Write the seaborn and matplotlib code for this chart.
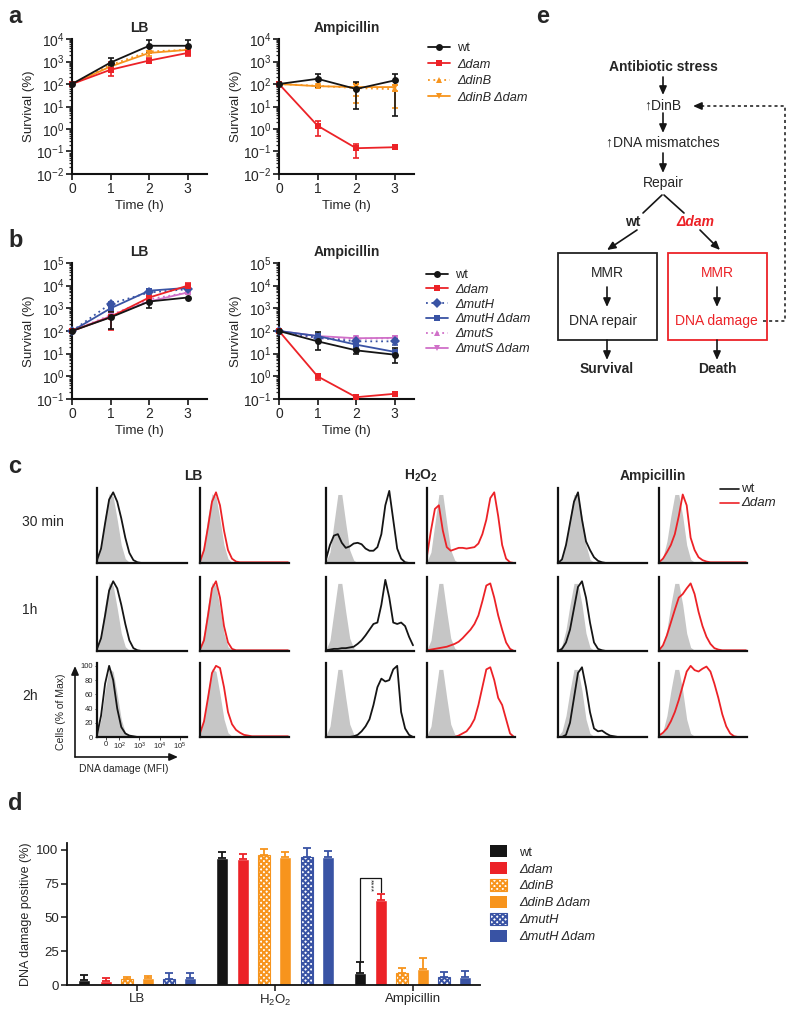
import numpy as np
import pandas as pd
import matplotlib
matplotlib.use('Agg')
import matplotlib.pyplot as plt
import seaborn as sns
from matplotlib.lines import Line2D
from matplotlib.patches import Patch, Rectangle
from matplotlib.ticker import LogLocator, LogFormatterMathtext, NullFormatter

W, H = 795, 1018

# ---------------- data ----------------
TIME = [0, 1, 2, 3]

# panel a
A_STRAINS = ['wt', 'Δdam', 'ΔdinB', 'ΔdinB Δdam']
A_LB_MEAN = [[100, 900, 5000, 5000], [100, 430, 1100, 2400], [100, 700, 2800, 3300], [100, 600, 2400, 3300]]
A_LB_LOW = [[100, 600, 2500, 2000], [100, 220, 900, 1800], [100, 700, 2800, 3300], [100, 450, 1800, 2600]]
A_LB_HIGH = [[100, 1400, 9000, 9000], [100, 1000, 1400, 3500], [100, 700, 2800, 3300], [100, 800, 3000, 4000]]
A_AMP_MEAN = [[100, 170, 60, 145], [100, 1.4, 0.14, 0.155], [100, 83, 66, 59], [100, 80, 73, 73]]
A_AMP_LOW = [[100, 72, 8, 3.8], [100, 0.5, 0.05, 0.15], [100, 83, 14, 50], [100, 70, 30, 9]]
A_AMP_HIGH = [[100, 280, 117, 280], [100, 2.2, 0.21, 0.16], [100, 83, 110, 90], [100, 90, 100, 95]]

# panel b
B_STRAINS = ['wt', 'Δdam', 'ΔmutH', 'ΔmutH Δdam', 'ΔmutS', 'ΔmutS Δdam']
B_LB_MEAN = [[100, 400, 2000, 3000], [100, 420, 3000, 10000], [100, 1600, 5000, 7000],
             [100, 1000, 6000, 8000], [100, 500, 2500, 5000], [100, 450, 2000, 5000]]
B_LB_LOW = [[100, 120, 1000, 3000], [100, 110, 2000, 8000], [100, 1300, 5000, 7000],
            [100, 800, 5000, 7000], [100, 500, 2500, 5000], [100, 400, 1700, 4500]]
B_LB_HIGH = [[100, 700, 3000, 3000], [100, 800, 4000, 12500], [100, 1900, 5000, 7000],
             [100, 1200, 7000, 9000], [100, 500, 2500, 5000], [100, 500, 2300, 5500]]
B_AMP_MEAN = [[100, 35, 14, 9], [100, 1.0, 0.12, 0.17], [100, 50, 35, 35],
              [100, 60, 25, 12], [100, 48, 45, 48], [100, 60, 48, 50]]
B_AMP_LOW = [[100, 15, 10, 4], [100, 0.7, 0.11, 0.16], [100, 40, 28, 25],
             [100, 50, 20, 9], [100, 48, 45, 48], [100, 55, 40, 40]]
B_AMP_HIGH = [[100, 90, 18, 17], [100, 1.25, 0.13, 0.18], [100, 60, 45, 45],
              [100, 70, 30, 15], [100, 48, 45, 48], [100, 65, 55, 60]]

# panel c  (flow histograms, % of max, on the log-fluorescence axis)
FLOW_X = [0.9, 1.1, 1.3, 1.5, 1.7, 1.9, 2.1, 2.3, 2.5, 2.7, 2.9, 3.1,
          3.3, 3.5, 3.7, 3.9, 4.1, 4.3, 4.5, 4.7, 4.9, 5.1, 5.3]
FLOW_TICKS = [1.35, 2, 3, 4, 5]
FLOW_TICKLABELS = ['0', '10$^2$', '10$^3$', '10$^4$', '10$^5$']
TIMEPOINTS = ['30 min', '1h', '2h']
GREY_LB = [3, 25, 65, 96, 92, 60, 25, 6, 1, 0, 0, 0, 0, 0, 0, 0, 0, 0, 0, 0, 0, 0, 0]
GREY_H2O2 = [2, 15, 55, 95, 95, 55, 18, 4, 0, 0, 0, 0, 0, 0, 0, 0, 0, 0, 0, 0, 0, 0, 0]
GREY_AMP = [1, 8, 30, 65, 95, 95, 65, 25, 5, 1, 0, 0, 0, 0, 0, 0, 0, 0, 0, 0, 0, 0, 0]
LB_WT = [[4, 20, 55, 88, 98, 85, 62, 35, 14, 4, 1, 0, 0, 0, 0, 0, 0, 0, 0, 0, 0, 0, 0],
         [3, 18, 50, 85, 98, 88, 65, 38, 15, 4, 1, 0, 0, 0, 0, 0, 0, 0, 0, 0, 0, 0, 0],
         [3, 30, 75, 100, 80, 40, 14, 5, 2, 1, 0, 0, 0, 0, 0, 0, 0, 0, 0, 0, 0, 0, 0]]
LB_DAM = [[2, 18, 50, 85, 98, 80, 45, 18, 6, 2, 1, 1, 1, 1, 1, 1, 1, 1, 1, 1, 1, 1, 1],
          [2, 15, 50, 88, 98, 75, 35, 12, 3, 1, 1, 1, 1, 1, 1, 1, 1, 1, 1, 1, 1, 1, 1],
          [5, 22, 55, 90, 100, 97, 70, 35, 18, 10, 6, 3, 2, 1, 1, 1, 1, 1, 1, 1, 1, 1, 1]]
H2O2_WT = [[5, 25, 38, 40, 28, 21, 23, 27, 28, 26, 20, 17, 17, 22, 40, 80, 100, 60, 20, 6, 1, 0, 0],
           [1, 2, 3, 3, 4, 4, 5, 6, 10, 15, 22, 30, 38, 40, 65, 100, 75, 40, 38, 40, 35, 20, 8],
           [0, 0, 0, 0, 0, 0, 0, 1, 3, 8, 15, 25, 45, 70, 82, 78, 80, 95, 100, 35, 12, 3, 0]]
H2O2_DAM = [[10, 45, 75, 80, 45, 22, 17, 19, 21, 21, 20, 21, 22, 27, 40, 60, 90, 98, 65, 25, 6, 1, 0],
            [1, 2, 3, 4, 5, 6, 8, 10, 13, 18, 24, 30, 38, 50, 70, 92, 95, 75, 50, 30, 12, 3, 0],
            [0, 0, 0, 0, 0, 0, 0, 0, 2, 5, 8, 15, 25, 45, 70, 95, 98, 80, 55, 45, 25, 5, 0]]
AMP_WT = [[0, 5, 25, 55, 85, 98, 60, 30, 18, 8, 3, 1, 0, 0, 0, 0, 0, 0, 0, 0, 0, 0, 0],
          [0, 3, 12, 30, 60, 90, 98, 75, 40, 12, 3, 1, 0, 0, 0, 0, 0, 0, 0, 0, 0, 0, 0],
          [0, 0, 3, 20, 55, 90, 98, 70, 35, 12, 8, 9, 5, 2, 1, 0, 0, 0, 0, 0, 0, 0, 0]]
AMP_DAM = [[1, 6, 15, 25, 40, 65, 95, 80, 35, 18, 8, 4, 2, 1, 1, 1, 1, 1, 1, 1, 1, 1, 1],
           [1, 8, 22, 40, 58, 75, 80, 88, 95, 80, 55, 35, 20, 10, 4, 2, 1, 1, 1, 1, 1, 1, 1],
           [2, 6, 12, 22, 35, 52, 72, 92, 100, 94, 92, 96, 99, 92, 75, 55, 32, 15, 5, 1, 0, 0, 0]]

# panel d
D_GROUPS = ['LB', 'H$_2$O$_2$', 'Ampicillin']
D_STRAINS = ['wt', 'Δdam', 'ΔdinB', 'ΔdinB Δdam', 'ΔmutH', 'ΔmutH Δdam']
D_MEAN = [[3.7, 94, 8.6], [3.2, 92.8, 63], [4.2, 96, 8.6], [4.9, 94.3, 11.9], [4.2, 95, 5.7], [4.9, 95, 5.9]]
D_ERR = [[3.7, 4, 8.2], [1.8, 4.2, 4], [2, 4.5, 3.7], [1.8, 4.2, 8.3], [4.4, 6, 4.2], [3.7, 3.8, 4.5]]

# ---------------- styles ----------------
BLACK, RED, ORANGE, BLUE, PINK = '#151515', '#ec2227', '#f7941d', '#3953a4', '#d070c8'
A_COLORS = [BLACK, RED, ORANGE, ORANGE]
A_MARKERS = ['o', 's', '^', 'v']
A_DASHES = ['', '', (1, 2), '']
B_COLORS = [BLACK, RED, BLUE, BLUE, PINK, PINK]
B_MARKERS = ['o', 's', 'D', 's', '^', 'v']
B_DASHES = ['', '', (1, 2), '', (1, 2), '']
D_COLORS = [BLACK, RED, ORANGE, ORANGE, BLUE, BLUE]
D_HATCHED = [False, False, True, False, True, False]
HATCH = 'xxxxxx'

sns.set_style('ticks')
plt.rcParams['font.family'] = ['Liberation Sans', 'DejaVu Sans']
plt.rcParams['mathtext.fontset'] = 'custom'
plt.rcParams['mathtext.rm'] = 'Liberation Sans'
plt.rcParams['mathtext.it'] = 'Liberation Sans:italic'
plt.rcParams['mathtext.bf'] = 'Liberation Sans:bold'
plt.rcParams['hatch.linewidth'] = 1.4
plt.rcParams['axes.edgecolor'] = '#111111'

fig = plt.figure(figsize=(W / 100, H / 100), dpi=100)


def px_rect(x0, y0, x1, y1):
    return [x0 / W, 1 - y1 / H, (x1 - x0) / W, (y1 - y0) / H]


def survival(ax, strains, means, lows, highs, colors, markers, dashes, ylim, title):
    rows = []
    for s, m in zip(strains, means):
        for t, v in zip(TIME, m):
            rows.append({'strain': s, 'time': t, 'survival': v})
    df = pd.DataFrame(rows)
    order = strains[::-1]
    ax.set_yscale('log')
    for m, lo, hi, c in reversed(list(zip(means, lows, highs, colors))):
        m, lo, hi = np.array(m, float), np.array(lo, float), np.array(hi, float)
        ax.errorbar(TIME, m, yerr=[m - lo, hi - m], fmt='none', ecolor=c, elinewidth=1.2,
                    capsize=2.5, capthick=1.2, clip_on=False, zorder=3)
    sns.lineplot(data=df, x='time', y='survival', hue='strain', style='strain',
                 hue_order=order, style_order=order, palette=dict(zip(strains, colors)),
                 markers=dict(zip(strains, markers)), dashes=dict(zip(strains, dashes)),
                 markersize=5, markeredgewidth=0, linewidth=1.3, legend=False,
                 errorbar=None, ax=ax, clip_on=False, zorder=4)
    ax.set_xlim(0, 3.5)
    ax.set_ylim(*ylim)
    ax.set_xticks(TIME)
    ax.yaxis.set_major_locator(LogLocator(base=10, numticks=12))
    ax.yaxis.set_major_formatter(LogFormatterMathtext())
    ax.yaxis.set_minor_locator(LogLocator(base=10, subs=np.arange(2, 10), numticks=30))
    ax.yaxis.set_minor_formatter(NullFormatter())
    sns.despine(ax=ax)
    for sp in ['left', 'bottom']:
        ax.spines[sp].set_linewidth(1.5)
    ax.tick_params(which='major', length=4, width=1.3, labelsize=10, pad=1.5)
    ax.tick_params(which='minor', length=2.2, width=0.9)
    ax.set_xlabel('Time (h)', fontsize=9.5, labelpad=3)
    ax.set_ylabel('Survival (%)', fontsize=9.5, labelpad=1)
    ax.set_title(title, fontsize=10, fontweight='bold', pad=5)


def line_legend(ax, strains, colors, markers, dashes, x, y, spacing):
    handles = []
    for c, mk, d in zip(colors, markers, dashes):
        ls = '-' if d == '' else (0, d)
        handles.append(Line2D([], [], color=c, marker=mk, ms=5, mew=0, lw=1.3, ls=ls))
    leg = ax.legend(handles, strains, loc='upper left', bbox_to_anchor=(x / W, 1 - y / H),
                    bbox_transform=fig.transFigure, frameon=False, fontsize=9.2,
                    handlelength=1.7, handletextpad=0.6, labelspacing=spacing,
                    borderpad=0, borderaxespad=0)
    for t in leg.get_texts()[1:]:
        t.set_style('italic')


# ---------------- panel a ----------------
ax = fig.add_axes(px_rect(72, 39, 207, 174))
survival(ax, A_STRAINS, A_LB_MEAN, A_LB_LOW, A_LB_HIGH, A_COLORS, A_MARKERS, A_DASHES, (1e-2, 1e4), 'LB')
ax = fig.add_axes(px_rect(279, 39, 414, 174))
survival(ax, A_STRAINS, A_AMP_MEAN, A_AMP_LOW, A_AMP_HIGH, A_COLORS, A_MARKERS, A_DASHES, (1e-2, 1e4), 'Ampicillin')
line_legend(ax, A_STRAINS, A_COLORS, A_MARKERS, A_DASHES, 428, 42, 0.36)

# ---------------- panel b ----------------
ax = fig.add_axes(px_rect(72, 263, 207, 399))
survival(ax, B_STRAINS, B_LB_MEAN, B_LB_LOW, B_LB_HIGH, B_COLORS, B_MARKERS, B_DASHES, (1e-1, 1e5), 'LB')
ax = fig.add_axes(px_rect(279, 263, 414, 399))
survival(ax, B_STRAINS, B_AMP_MEAN, B_AMP_LOW, B_AMP_HIGH, B_COLORS, B_MARKERS, B_DASHES, (1e-1, 1e5), 'Ampicillin')
line_legend(ax, B_STRAINS, B_COLORS, B_MARKERS, B_DASHES, 426, 269, 0.22)

# ---------------- panel c ----------------
col_x = [(97, 187), (200, 289), (326, 414), (427, 515), (558, 647), (659, 747)]
row_y = [(488, 563), (577, 651), (663, 737)]
col_curves = [LB_WT, LB_DAM, H2O2_WT, H2O2_DAM, AMP_WT, AMP_DAM]
col_grey = [GREY_LB, GREY_LB, GREY_H2O2, GREY_H2O2, GREY_AMP, GREY_AMP]
col_color = [BLACK, RED, BLACK, RED, BLACK, RED]
for ci, (curves, grey, color) in enumerate(zip(col_curves, col_grey, col_color)):
    for ri in range(3):
        ax = fig.add_axes(px_rect(col_x[ci][0], row_y[ri][0], col_x[ci][1], row_y[ri][1]))
        ax.fill_between(FLOW_X, grey, color='#c6c6c6', lw=0)
        sns.lineplot(x=FLOW_X, y=curves[ri], color=color, lw=1.3, ax=ax, clip_on=False)
        ax.set_xlim(0.9, 5.35)
        ax.set_ylim(0, 104)
        sns.despine(ax=ax)
        for sp in ['left', 'bottom']:
            ax.spines[sp].set_linewidth(1.6)
        if ci == 0 and ri == 2:
            ax.set_yticks([0, 20, 40, 60, 80, 100])
            ax.set_xticks(FLOW_TICKS)
            ax.set_xticklabels(FLOW_TICKLABELS)
            ax.tick_params(length=1.8, width=0.6, labelsize=5.5, pad=1)
        else:
            ax.set_xticks([])
            ax.set_yticks([])

# ---------------- panel d ----------------
df_d = pd.DataFrame([(g, s, v) for s, vals in zip(D_STRAINS, D_MEAN) for g, v in zip(D_GROUPS, vals)],
                    columns=['group', 'strain', 'value'])
ax = fig.add_axes(px_rect(67, 843, 480, 985))
sns.barplot(data=df_d, x='group', y='value', hue='strain', order=D_GROUPS, hue_order=D_STRAINS,
            palette=D_COLORS, width=0.92, gap=0.43, errorbar=None, legend=False,
            saturation=1, ax=ax)
for cont, err, c, hatched in zip(ax.containers, D_ERR, D_COLORS, D_HATCHED):
    for bar, e in zip(cont, err):
        if hatched:
            bar.set_facecolor('white')
            bar.set_edgecolor(c)
            bar.set_hatch(HATCH)
            bar.set_linewidth(0.8)
        xc = bar.get_x() + bar.get_width() / 2
        ax.errorbar([xc], [bar.get_height()], yerr=[[0], [e]], fmt='none', ecolor=c,
                    elinewidth=1.3, capsize=3, capthick=1.3)
x_wt = ax.containers[0][2].get_x() + ax.containers[0][2].get_width() / 2
x_dam = ax.containers[1][2].get_x() + ax.containers[1][2].get_width() / 2
ax.plot([x_wt, x_wt, x_dam, x_dam], [18, 79, 79, 69], color=BLACK, lw=0.9)
ax.text((x_wt + x_dam) / 2, 78.5, '****', rotation=270, fontsize=6, ha='center', va='top')
ax.set_xlim(-0.51, 2.49)
ax.set_ylim(0, 105)
ax.set_yticks([0, 25, 50, 75, 100])
sns.despine(ax=ax)
for sp in ['left', 'bottom']:
    ax.spines[sp].set_linewidth(1.3)
ax.tick_params(length=4, width=1.2, labelsize=9.5, pad=2)
ax.set_xlabel('')
ax.set_ylabel('DNA damage positive (%)', fontsize=9, labelpad=3)
d_handles = [Patch(facecolor='white' if h else c, edgecolor=c, hatch=HATCH if h else None,
                   lw=0.8 if h else 0) for c, h in zip(D_COLORS, D_HATCHED)]
leg = ax.legend(d_handles, D_STRAINS, loc='upper left', bbox_to_anchor=(490 / W, 1 - 845 / H),
                bbox_transform=fig.transFigure, frameon=False, fontsize=9.3, handlelength=1.35,
                handleheight=1.1, labelspacing=0.26, handletextpad=0.9, borderpad=0, borderaxespad=0)
for t in leg.get_texts()[1:]:
    t.set_style('italic')

# ---------------- overlay: letters, labels, panel e ----------------
ov = fig.add_axes([0, 0, 1, 1])
ov.set_xlim(0, W)
ov.set_ylim(H, 0)
ov.axis('off')
ov.patch.set_visible(False)

for letter, (lx, ly) in zip('abcde', [(8, 23), (8, 247), (8, 473), (8, 810), (536, 23)]):
    ov.text(lx, ly, letter, fontsize=17, fontweight='bold', va='baseline', ha='left')

# panel c labels
for lab, (y0, y1) in zip(TIMEPOINTS, row_y):
    ov.text(22, (y0 + y1) / 2 - 4, lab, fontsize=10, va='center', ha='left')
for lab, xc in zip(['LB', 'H$_\\mathbf{2}$O$_\\mathbf{2}$', 'Ampicillin'], [193, 421, 653]):
    ov.text(xc, 476, lab, fontsize=10, fontweight='bold', ha='center', va='center')
ov.plot([720, 739], [489, 489], color=BLACK, lw=1.2)
ov.text(741, 489, 'wt', fontsize=9.5, va='center')
ov.plot([720, 739], [503, 503], color=RED, lw=1.2)
ov.text(741, 503, 'Δdam', fontsize=9.5, va='center', style='italic')


def arrow(x0, y0, x1, y1, color=BLACK):
    ov.annotate('', xy=(x1, y1), xytext=(x0, y0),
                arrowprops=dict(arrowstyle='-|>,head_length=0.5,head_width=0.22', color=color,
                                lw=1.2, shrinkA=0, shrinkB=0, mutation_scale=10))


# axis arrows of the example histogram
arrow(75, 757, 75, 666)
arrow(75, 757, 178, 757)
ov.text(61, 712, 'Cells (% of Max)', fontsize=7.5, rotation=90, ha='center', va='center')
ov.text(124, 769, 'DNA damage (MFI)', fontsize=7.5, ha='center', va='center')

# panel e
cx = 663
FS = 10
ov.text(cx, 67, 'Antibiotic stress', fontsize=FS, fontweight='bold', ha='center', va='center')
arrow(cx, 77, cx, 95)
ov.text(cx, 106, '↑DinB', fontsize=FS, ha='center', va='center')
arrow(cx, 113, cx, 133)
ov.text(cx, 143, '↑DNA mismatches', fontsize=FS, ha='center', va='center')
arrow(cx, 153, cx, 173)
ov.text(cx, 183, 'Repair', fontsize=FS, ha='center', va='center')
ov.plot([662, 643], [195, 213], color=BLACK, lw=1.2)
arrow(637, 230, 607, 250)
ov.text(633, 222, 'wt', fontsize=FS, fontweight='bold', ha='center', va='center')
ov.plot([664, 684], [195, 213], color=BLACK, lw=1.2)
arrow(700, 230, 720, 250)
ov.text(695, 222, 'Δdam', fontsize=FS, fontweight='bold', style='italic', color=RED,
        ha='center', va='center')
ov.add_patch(Rectangle((558, 253), 99, 87, fill=False, ec='#222222', lw=1.3))
ov.add_patch(Rectangle((668, 253), 99, 87, fill=False, ec=RED, lw=1.3))
ov.text(607, 273, 'MMR', fontsize=FS, ha='center', va='center')
arrow(607, 287, 607, 307)
ov.text(603, 321, 'DNA repair', fontsize=FS, ha='center', va='center')
ov.text(717, 273, 'MMR', fontsize=FS, ha='center', va='center', color=RED)
arrow(717, 287, 717, 307)
ov.text(716, 321, 'DNA damage', fontsize=FS, ha='center', va='center', color=RED)
arrow(607, 340, 607, 360)
arrow(717, 340, 717, 360)
ov.text(607, 369, 'Survival', fontsize=FS, fontweight='bold', ha='center', va='center')
ov.text(717, 369, 'Death', fontsize=FS, fontweight='bold', ha='center', va='center')
ov.plot([763, 785, 785, 700], [321, 321, 106, 106], color=BLACK, lw=1.1, ls=(0, (2, 2)))
arrow(702, 106, 693, 106)

fig.savefig('out.png', dpi=100)
